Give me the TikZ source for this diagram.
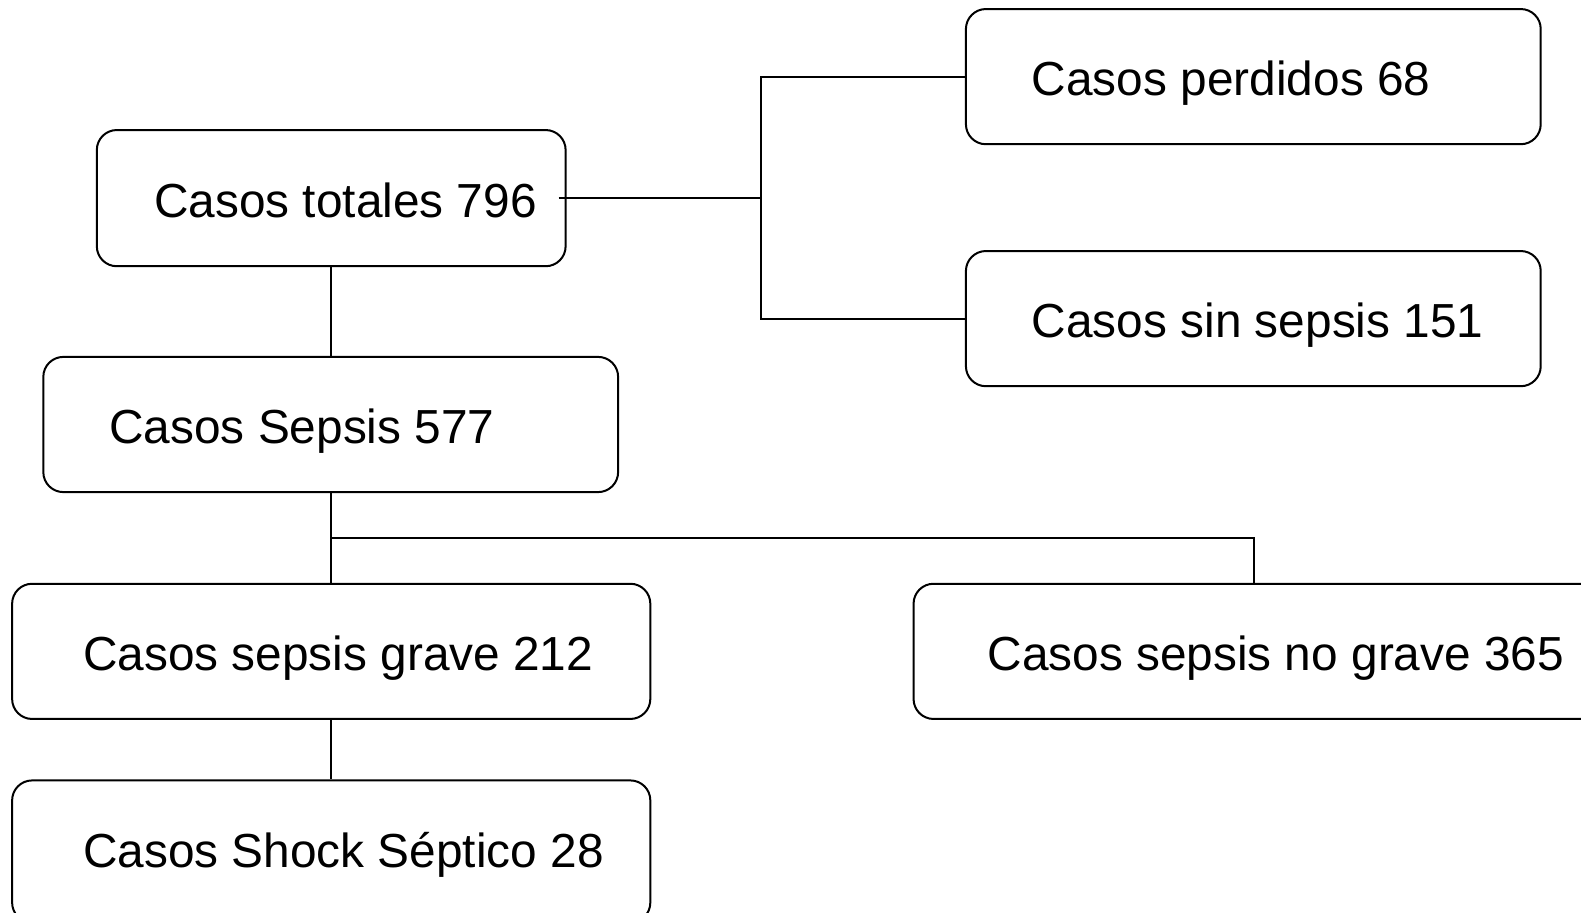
\documentclass[tikz,border=0pt]{standalone}
\usepackage{fontspec}
\setmainfont{Liberation Sans}
\begin{document}
\begin{tikzpicture}[x=0.50415pt,y=-0.50415pt,
  box/.style={draw=black,line width=1pt,rounded corners=10pt,rectangle,inner sep=0pt},
  lbl/.style={anchor=base west,inner sep=0pt,font=\fontsize{23.9}{28}\selectfont},
  conn/.style={draw=black,line width=1pt}]
\useasboundingbox (0,0) rectangle (1568,904.5);
\begin{scope}
\clip (0,0) rectangle (1568,904.5);
% boxes
\node[box,minimum width=234.4pt,minimum height=68.1pt] (tot) at (328.5,196.5) {};
\node[box,minimum width=287.4pt,minimum height=67.6pt] (per) at (1243,76) {};
\node[box,minimum width=287.4pt,minimum height=67.6pt] (sin) at (1243,316) {};
\node[box,minimum width=287.4pt,minimum height=67.6pt] (sep) at (328,421) {};
\node[box,minimum width=319.1pt,minimum height=67.6pt] (gra) at (328.5,646) {};
\node[box,minimum width=344.8pt,minimum height=67.6pt] (nog) at (1248,646) {};
\node[box,minimum width=319.1pt,minimum height=71.1pt] (sho) at (328.5,844.5) {};
% texts
\node[lbl] (ttot) at (152.5,215.5) {Casos totales 796};
\node[lbl] (tper) at (1023,95) {Casos perdidos 68};
\node[lbl] (tsin) at (1023,335) {Casos sin sepsis 151};
\node[lbl] (tsep) at (108,440) {Casos Sepsis 577};
\node[lbl] (tgra) at (82,665) {Casos sepsis grave 212};
\node[lbl] (tnog) at (979,665) {Casos sepsis no grave 365};
\node[lbl] (tsho) at (82,860) {Casos Shock Séptico 28};
% connectors
\coordinate (j1) at (755,196.5);
\coordinate (j2) at (328,534);
\coordinate (j3) at (1244,534);
\draw[conn] ([xshift=-4pt]tot.east) -- (j1);
\draw[conn] (per.west) -| (j1) |- (sin.west);
\draw[conn] (tot.south) -- (tot.south |- sep.north);
\draw[conn] (sep.south) -- (sep.south |- gra.north);
\draw[conn] (j2 -| sep.south) -- (j3) -- (j3 |- nog.north);
\draw[conn] (gra.south) -- (gra.south |- sho.north);
\end{scope}
\end{tikzpicture}
\end{document}
